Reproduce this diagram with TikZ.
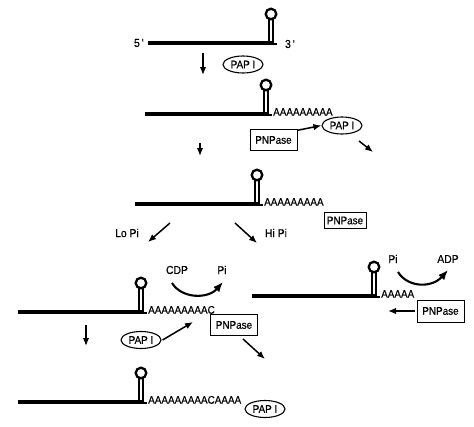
\documentclass[tikz,border=0pt]{standalone}
\usepackage{fontspec}
\setmainfont{Liberation Sans}
\newfontface\heavyface{Liberation Sans}[FakeBold=0.5,FakeStretch=0.9]
\usetikzlibrary{arrows.meta,shapes.geometric}
\newcommand\hairpinrna[3]{%
  \draw[strand] (#1,#3) -- (#2+2.9,#3);
  \draw[stemln] (#2-2,#3) -- (#2-2,#3-24);
  \draw[stemln] (#2+2,#3+1.7) -- (#2+2,#3-24);
  \draw[stemln] (#2+1.3,#3+0.9) -- (#2+6,#3+0.9);
  \draw[loopln] (#2,#3-29) circle[radius=5.3];
}
\begin{document}
\begin{tikzpicture}[x=1pt,y=-1pt,
  strand/.style={line width=3.6pt},
  stemln/.style={line width=1.8pt},
  loopln/.style={line width=2.3pt},
  arr/.style={line width=1.5pt,-{Latex[length=8pt,width=6.5pt]}},
  carr/.style={line width=2.1pt,-{Latex[length=10pt,width=8pt]}},
  enz/.style={draw,line width=1pt,minimum width=47pt,minimum height=21pt,inner sep=0pt,font=\heavyface\fontsize{11}{12}\selectfont},
  pap/.style={draw,ellipse,line width=1.1pt,minimum width=40pt,minimum height=17pt,inner sep=0pt,font=\heavyface\fontsize{11}{12}\selectfont},
  lbl/.style={inner sep=0pt,font=\heavyface\fontsize{11.5}{12}\selectfont},
  tail/.style={anchor=base west,inner sep=0pt,font=\heavyface\fontsize{11}{12}\selectfont}
]
\useasboundingbox (0,0) rectangle (474,426);
\fill[white] (0,0) rectangle (474,426);

% RNA molecules
\hairpinrna{148}{271}{43}
\hairpinrna{145}{266}{114}
\hairpinrna{135}{257}{204}
\hairpinrna{18}{141}{312}
\hairpinrna{252}{374}{296}
\hairpinrna{18}{141}{402}

% tails
\node[tail] (t2) at (273,115.7) {AAAAAAAAA};
\node[tail] (t3) at (264,205.7) {AAAAAAAAA};
\node[tail] (t4) at (148,313.7) {AAAAAAAAAC};
\node[tail] (t5) at (381,297.7) {AAAAA};
\node[tail] (t6) at (148,403.7) {AAAAAAAAACAAAA};

% end labels
\node[lbl] (p5) at (139,43) {5\,\textquotesingle};
\node[lbl] (p3) at (290,44) {3\,\textquotesingle};

% enzymes
\node[pap] (pap1) at (243,64.5) {PAP I};
\node[pap] (pap2) at (342,125.5) {PAP I};
\node[pap] (pap4) at (141,340) {PAP I};
\node[pap] (pap6) at (265,409) {PAP I};

\node[enz] (pn2) at (273.5,140) {PNPase};
\node[enz,minimum width=42pt,minimum height=16pt] (pn3) at (345,220.5) {PNPase};
\node[enz] (pn4) at (234,325) {PNPase};
\node[enz,minimum height=22pt] (pn5) at (440.5,311) {PNPase};

% small labels
\node[lbl] (lopi) at (127,233) {Lo Pi};
\node[lbl] (hipi) at (276,233) {Hi Pi};
\node[lbl] (cdp) at (177,270) {CDP};
\node[lbl] (pia) at (222,270) {Pi};
\node[lbl] (pib) at (393,259) {Pi};
\node[lbl] (adp) at (448,259) {ADP};

% coordinates for free arrow ends
\coordinate (d1a) at (203,53);  \coordinate (d1b) at (203,75);
\coordinate (d2a) at (200,143); \coordinate (d2b) at (200,156);
\coordinate (d3a) at (86,325);  \coordinate (d3b) at (86,346);
\coordinate (loa) at (170,223); \coordinate (lob) at (148,242);
\coordinate (hia) at (235,223); \coordinate (hib) at (257,243);
\coordinate (o2a) at (359,141); \coordinate (o2b) at (373,152);
\coordinate (o4a) at (243,339); \coordinate (o4b) at (265,359);
\coordinate (i4) at (193,322);
\coordinate (i5) at (388,311);
\coordinate (c1a) at (172,283); \coordinate (c1b) at (223,282);
\coordinate (c2a) at (398,272); \coordinate (c2b) at (448,270);

% arrows
\draw[arr] (d1a) -- (d1b);
\draw[arr] (d2a) -- (d2b);
\draw[arr] (d3a) -- (d3b);
\draw[arr] (loa) -- (lob);
\draw[arr] (hia) -- (hib);
\draw[arr] (pn2.22) -- (pap2.west);
\draw[arr] (o2a) -- (o2b);
\draw[arr] (pap4.east) ++(1,0) -- (i4);
\draw[arr] (o4a) -- (o4b);
\draw[arr] (pn5.west) ++(-2,0) -- (i5);
\draw[carr] (c1a) .. controls (182,299) and (208,299) .. (c1b);
\draw[carr] (c2a) .. controls (408,288) and (432,288) .. (c2b);
\end{tikzpicture}
\end{document}
